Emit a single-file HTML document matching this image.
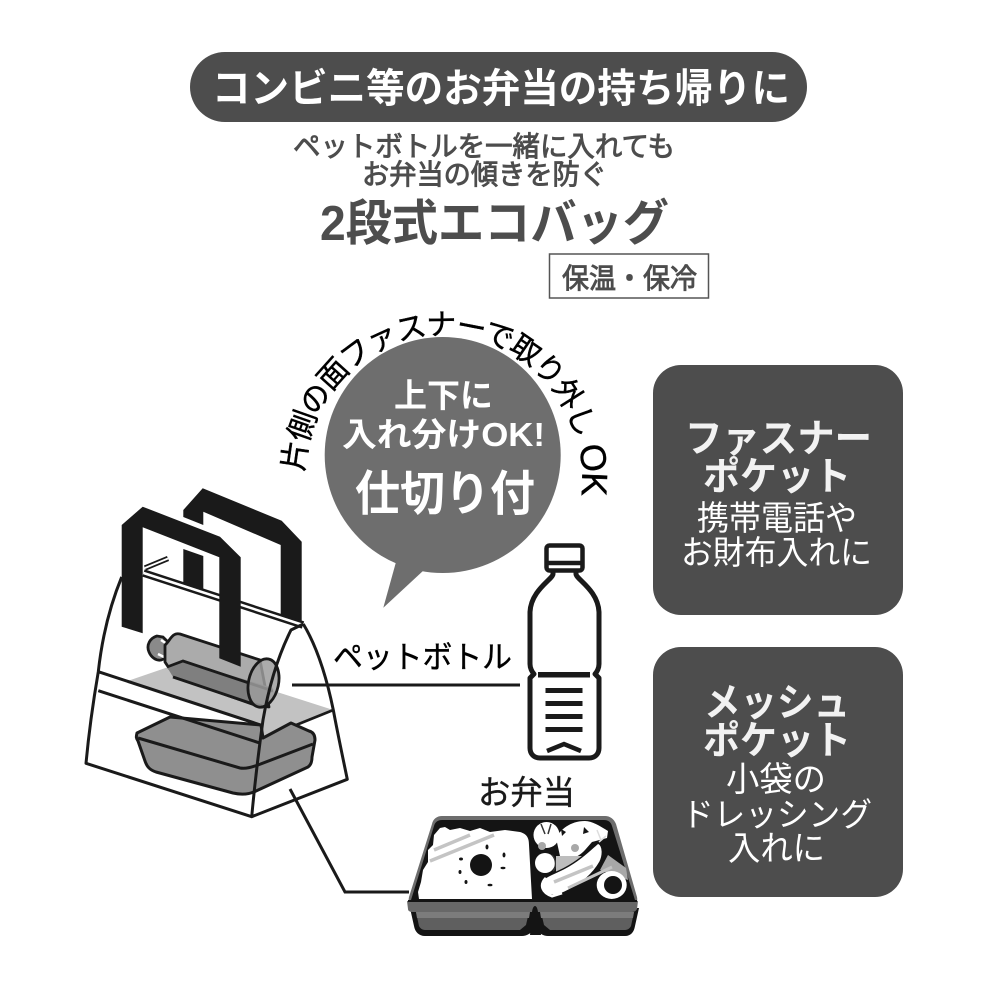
<!DOCTYPE html>
<html><head><meta charset="utf-8">
<style>
html,body{margin:0;padding:0;background:#fff}
svg{display:block}
text{font-family:"Liberation Sans","Noto Sans CJK JP",sans-serif}
.b{font-weight:700}
.m{font-weight:400;stroke:#4d4d4d;stroke-width:.9}
</style></head><body>
<svg width="1000" height="1000" viewBox="0 0 1000 1000" xmlns="http://www.w3.org/2000/svg">
<rect width="1000" height="1000" fill="#fff"/>
<!-- header -->
<rect x="190" y="52" width="617" height="70" rx="35" fill="#4d4d4d"/>
<text class="b" x="212" y="102" font-size="40" fill="#fff" textLength="578" lengthAdjust="spacingAndGlyphs">コンビニ等のお弁当の持ち帰りに</text>
<text class="m" x="293" y="156" font-size="28" fill="#4d4d4d" textLength="382" lengthAdjust="spacingAndGlyphs">ペットボトルを一緒に入れても</text>
<text class="m" x="362" y="184" font-size="28" fill="#4d4d4d" textLength="245" lengthAdjust="spacingAndGlyphs">お弁当の傾きを防ぐ</text>
<text class="b" x="320" y="240" font-size="49" fill="#4d4d4d" textLength="349" lengthAdjust="spacingAndGlyphs">2段式エコバッグ</text>
<rect x="549.5" y="254" width="159" height="44" fill="#fff" stroke="#555" stroke-width="1.5"/>
<text class="m" x="562" y="288" font-size="28" fill="#4d4d4d" textLength="135" lengthAdjust="spacingAndGlyphs">保温・保冷</text>

<!-- right panels -->
<rect x="653" y="365" width="250" height="250" rx="28" fill="#4d4d4d"/>
<text class="b" x="685" y="452" font-size="39" fill="#f2f2f2" textLength="187" lengthAdjust="spacingAndGlyphs">ファスナー</text>
<text class="b" x="703" y="490" font-size="39" fill="#f2f2f2" textLength="148" lengthAdjust="spacingAndGlyphs">ポケット</text>
<text x="697" y="530" font-size="34" fill="#fff" textLength="160" lengthAdjust="spacingAndGlyphs">携帯電話や</text>
<text x="681" y="564" font-size="33" fill="#fff" textLength="191" lengthAdjust="spacingAndGlyphs">お財布入れに</text>

<rect x="653" y="647" width="250" height="250" rx="28" fill="#4d4d4d"/>
<text class="b" x="704" y="716" font-size="39" fill="#f2f2f2" textLength="146" lengthAdjust="spacingAndGlyphs">メッシュ</text>
<text class="b" x="703" y="754" font-size="39" fill="#f2f2f2" textLength="148" lengthAdjust="spacingAndGlyphs">ポケット</text>
<text x="726" y="791" font-size="34" fill="#fff" textLength="100" lengthAdjust="spacingAndGlyphs">小袋の</text>
<text x="682" y="826" font-size="33" fill="#fff" textLength="190" lengthAdjust="spacingAndGlyphs">ドレッシング</text>
<text x="728" y="860" font-size="34" fill="#fff" textLength="97" lengthAdjust="spacingAndGlyphs">入れに</text>

<!-- speech bubble -->
<circle cx="442.7" cy="455" r="118" fill="#6e6e6e"/>
<polygon points="396,562 383.3,607.7 424,570" fill="#6e6e6e"/>
<text class="b" x="394" y="407" font-size="33" fill="#fff" textLength="99" lengthAdjust="spacingAndGlyphs">上下に</text>
<text class="b" x="342" y="446" font-size="33" fill="#fff" textLength="203" lengthAdjust="spacingAndGlyphs">入れ分けOK!</text>
<text class="b" x="355" y="510" font-size="48" fill="#fff" textLength="180" lengthAdjust="spacingAndGlyphs">仕切り付</text>

<!-- curved text -->
<defs><path id="arc" d="M 304 472 A 139 143 0 1 1 582 484"/></defs>
<text font-size="30" fill="#000" stroke="#000" stroke-width="0.4"><textPath href="#arc" startOffset="0" textLength="455" lengthAdjust="spacing">片側の面ファスナーで取り外し<tspan font-size="36"> OK</tspan></textPath></text>

<!-- back handle -->
<polygon points="183.3,510 202.7,488.3 281.7,520.7 301.7,541.7 301.7,623.3 280.7,616.7 280.7,545 203.3,511.7 203.3,525 183.3,517" fill="#1a1a1a"/>
<polygon points="183.3,549 203.3,556 203.3,590.7 183.3,583.3" fill="#1a1a1a"/>

<!-- zipper -->
<g fill="none" stroke="#1a1a1a">
<path d="M143.500 573 L303 625" stroke-width="7.500"/>
<path d="M143.500 573 L303 625" stroke="#fff" stroke-width="2.500"/>
<path d="M145 568 L168 558.500" stroke-width="5.500"/>
<path d="M145 568 L168 558.500" stroke="#fff" stroke-width="1.800"/>
</g>

<!-- shelf -->
<polygon points="128.300,680.700 183,662 333.300,710 263.300,738.300 260.700,725" fill="#c2c2c2"/>
<path d="M333.300 710 L264 738" stroke="#1a1a1a" stroke-width="2.800" fill="none"/>

<!-- lying bottle -->
<path d="M157 636 C150 638 146 645 149 652 C151 657 156 661 161 660 L166 658 L168 642 L163 637 Z" fill="#8a8a8a" stroke="#1a1a1a" stroke-width="2.800"/>
<path d="M161 640 L167 644 M158 654 L164 657" stroke="#fff" stroke-width="2.500"/>
<path d="M165 645 C170 641 172 632 180 634 L260 660 L269 707 L255 705 L190 682 C176 678 170 670 165 662 Z" fill="#ababab" stroke="#1a1a1a" stroke-width="2.800" stroke-linejoin="round"/>
<path d="M167 667 L183 661 L273 688 L266 707 L250 703 L173 677 Z" fill="#7f7f7f"/>
<path d="M167 667 L183 661 L273 691" fill="none" stroke="#1a1a1a" stroke-width="2.800"/>
<path d="M173 677 L250 703 L262 706" fill="none" stroke="#1a1a1a" stroke-width="2.800"/>
<ellipse cx="263.500" cy="683" rx="15" ry="24.500" transform="rotate(12 263.500 683)" fill="#9c9c9c" fill-opacity=".85" stroke="#1a1a1a" stroke-width="2.800"/>

<!-- bento in bag -->
<path d="M170 717 L137 733 C136 737 136 738 138 741 L145 761 C147 767 150 770 156 772 L233 793 C242 795 250 794 256 791 L308 767 C311 765 312 762 312 757 L315 740 C315 735 313 732 309 731 L291 723 L263 738 L261 725 Z" fill="#8f8f8f" stroke="#1a1a1a" stroke-width="3" stroke-linejoin="round"/>
<path d="M138 738 L240 768 C246 769 252 767 258 765 L313 744" fill="none" stroke="#1a1a1a" stroke-width="3"/>

<!-- bag outline -->
<g fill="none" stroke="#1a1a1a" stroke-width="3" stroke-linejoin="round">
<path d="M121.700 577 Q104 620 98.300 671.700 Q90 720 86 763.300 L251.700 816.700 L347.300 779.300 Q337 730 333.300 710 Q322 655 303.300 624"/>
<path d="M303.300 624 L291 630 Q272 668 263 720 Q256 770 251.700 816.700"/>
<path d="M98.300 671.700 L260.700 725"/>
<path d="M98.300 690.700 L260.700 743.300"/>
</g>

<!-- front handle -->
<polygon points="121.700,525 142.700,506.700 220,536.700 240.700,557.300 240.700,666.700 219.300,658.300 219.300,557.300 142.700,527.300 142.700,633.300 121.700,626.700" fill="#1a1a1a"/>

<!-- connector lines -->
<path d="M292 685 L520 685" stroke="#1a1a1a" stroke-width="3" fill="none"/>
<path d="M290 789 L345 892 L409 892" stroke="#1a1a1a" stroke-width="3" fill="none"/>
<text x="333" y="668" font-size="31" fill="#000" stroke="#000" stroke-width="0.4" textLength="179" lengthAdjust="spacingAndGlyphs">ペットボトル</text>
<text x="478" y="804" font-size="33" fill="#1a1a1a" stroke="#1a1a1a" stroke-width="0.4" textLength="97" lengthAdjust="spacingAndGlyphs">お弁当</text>

<!-- standing bottle -->
<g fill="none" stroke="#1a1a1a" stroke-linejoin="round">
<rect x="546.500" y="545.500" width="36" height="25" rx="3" fill="#fff" stroke-width="4.500"/>
<path d="M547 563 H582" stroke-width="4.500"/>
<path d="M553 572 V574 C553 579 531 590 530 612 L530 664 C530 668 532 672 534 674 L530 678 L530 748 C530 754 534 758 540 758 L589 758 C595 758 599 754 599 748 L599 678 L595 674 C597 672 599 668 599 664 L599 612 C598 590 576 579 576 574 V572" stroke-width="5"/>
</g>
<g fill="#1a1a1a">
<rect x="538" y="672" width="52" height="5.500"/>
<rect x="545.500" y="688" width="37" height="5"/>
<rect x="545.500" y="701" width="37" height="5"/>
<rect x="545.500" y="714" width="37" height="5"/>
<rect x="545.500" y="727" width="37" height="5"/>
</g>
<path d="M547 751 L564 744 L581 751" fill="none" stroke="#1a1a1a" stroke-width="4.500"/>

<!-- bento box -->
<path d="M410 908 L414 926 C415 932 419 936 425 936 L522 936 C527 936 531 933 535 929 C539 933 543 936 548 936 L625 936 C631 936 634 932 635 926 L639 908 Z" fill="#141414"/>
<path d="M416 912 L419 926 C420 928 422 930 425 930 L520 930 L526 925 L529 912 Z M541 912 L544 925 L550 930 L625 930 C628 930 630 928 631 926 L634 912 Z" fill="#5f5f5f"/>
<path d="M416 912 H530 L529 918 H417 Z M540 912 H634 L633 918 H541 Z" fill="#7c7c7c"/>
<path d="M409 897 L432 824 C433 819 437 816 442 816 L605 816 C610 816 614 819 616 824 L637 897 C638 902 636 906 631 906 L413 906 C409 906 408 902 409 897 Z" fill="#6d6d6d"/>
<path d="M411 900 L434 826 C435 822 438 820 442 820 L604 820 C608 820 611 822 612 826 L635 900 L412 901 Z" fill="#141414"/>
<path d="M407 901 H638 L637 909 C636 911 634 912 632 912 L413 912 C410 912 408 911 408 909 Z" fill="#686868"/>
<path d="M408 901 H637" stroke="#141414" stroke-width="2" fill="none"/>
<path d="M530 935 L532 912 C533 904 537 904 538 912 L541 935 Z" fill="#141414"/>
<!-- rice -->
<path d="M440 828 L445 827 L450 830 L460 828 L470 831 L480 828 L490 832 L505 830 L520 832 C527 834 529 838 529 845 L532 899 L419 899 L418 892 L421 882 L423 870 L428 862 L428 850 L433 845 L434 835 Z" fill="#fff"/>
<path d="M434 850 L470 835 M430 861 L494 835" stroke="#c4c4c4" stroke-width="3.500" fill="none"/>
<circle cx="481" cy="865" r="11" fill="#141414"/>
<g fill="#141414">
<ellipse cx="487" cy="847" rx="1.500" ry="2.500"/><ellipse cx="504" cy="855" rx="1.500" ry="2.500"/><ellipse cx="503" cy="868" rx="2.500" ry="1.200"/>
<ellipse cx="490" cy="885" rx="2.500" ry="1.300"/><ellipse cx="466" cy="882" rx="1.500" ry="2"/><ellipse cx="460" cy="872" rx="1.500" ry="2"/><ellipse cx="461" cy="859" rx="2" ry="1.500"/>
</g>
<!-- side dishes -->
<path d="M556 838 C560 830 570 821 585 821 C592 821 600 826 608 831 L607 838 L592 842 L585 850 C578 858 566 862 560 856 Z" fill="#fff"/>
<circle cx="546.500" cy="835" r="13" fill="#fff"/>
<circle cx="542" cy="846" r="4" fill="#a8a8a8"/>
<path d="M541 824 L545 834 M551 824 L548 834" stroke="#333" stroke-width="1.500"/>
<circle cx="545" cy="863" r="10" fill="#fff"/>
<path d="M552 855 C556 859 557 867 553 871" stroke="#333" stroke-width="1.500" fill="none"/>
<circle cx="575" cy="847" r="8" fill="#fff"/>
<circle cx="575" cy="848" r="4" fill="#a8a8a8"/>
<path d="M584 827 L589 832 L583 834 Z M561 829 L566 832 L562 836 Z" fill="#141414"/>
<path d="M597 830 L601 840 M606 836 L599 842" stroke="#ddd" stroke-width="1.500"/>
<path d="M556 856 H582 V872 H556 Z" fill="#bdbdbd"/>
<path d="M608 855 L626 868 L628 880 L600 870 Z" fill="#a8a8a8"/>
<path d="M541 886 C540 877 552 875 565 868 C580 860 590 850 598 843 C604 846 603 856 600 862 C592 876 580 885 565 892 C555 897 542 896 541 886 Z" fill="#fff" stroke="#141414" stroke-width="1.500"/>
<path d="M546 878 C540 884 541 892 552 896 L562 893" stroke="#fff" stroke-width="3" fill="none"/>
<path d="M554 882 L593 866" stroke="#c4c4c4" stroke-width="3.500"/>
<path d="M568 888 L612 867" stroke="#c4c4c4" stroke-width="3"/>
<ellipse cx="611.700" cy="885" rx="15" ry="14" fill="#fff"/>
<circle cx="613" cy="885" r="9" fill="#141414"/>
</svg>
</body></html>
